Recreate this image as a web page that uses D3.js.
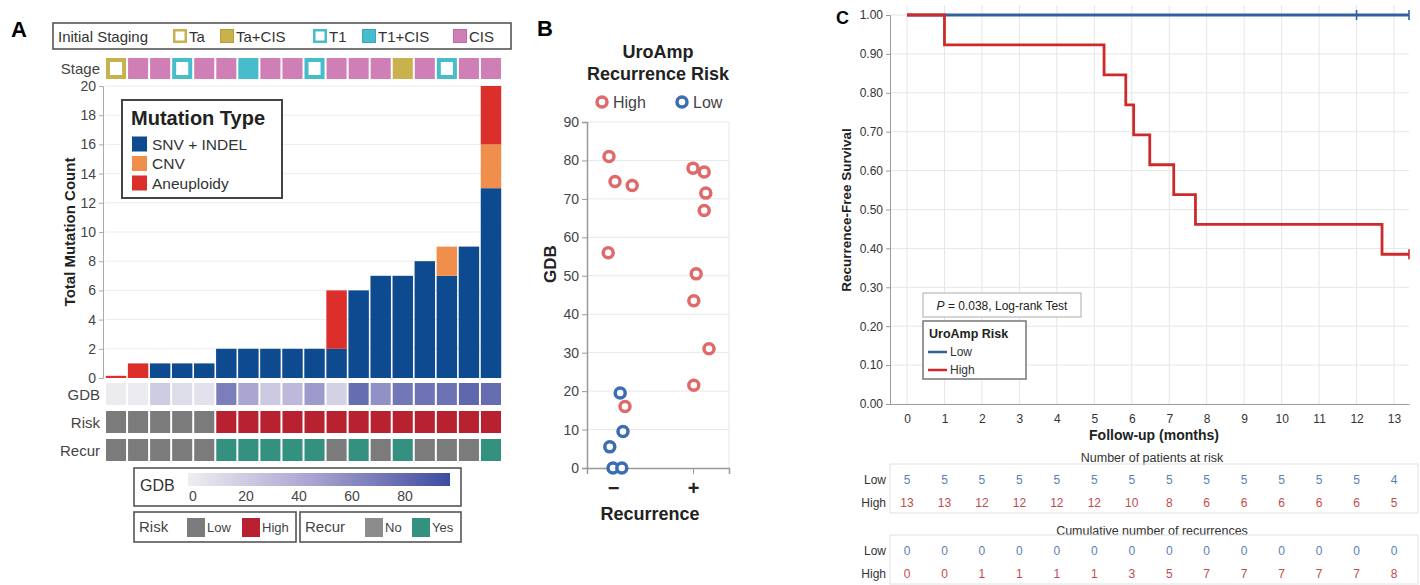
<!DOCTYPE html>
<html><head><meta charset="utf-8">
<script src="https://cdn.jsdelivr.net/npm/d3@7"></script>
<style>
body{margin:0;background:#fff;}
text{font-family:"Liberation Sans",Arial,sans-serif;}
</style></head>
<body>
<svg id="fig" width="1420" height="585"></svg>
<script>
// ---------------- DATA ----------------
// Panel A
const samples = d3.range(1, 19).map(i => "S" + i);
const stageCats = ["Ta", "Ta+CIS", "T1", "T1+CIS", "CIS"];
const stage = ["Ta","CIS","CIS","T1","CIS","CIS","T1+CIS","CIS","CIS","T1","CIS","CIS","CIS","Ta+CIS","CIS","T1","CIS","CIS"];
const snvIndel   = [0,0,1,1,1,2,2,2,2,2,2,6,7,7,8,7,9,13];
const cnv        = [0,0,0,0,0,0,0,0,0,0,0,0,0,0,0,2,0,3];
const aneuploidy = [0.15,1,0,0,0,0,0,0,0,0,4,0,0,0,0,0,0,4];
const gdbA = [0,0,19.5,9.5,5.5,67,43.5,21.5,31,50.5,16,77,56,71.5,73.5,74.5,81,78];
const riskA = ["Low","Low","Low","Low","Low","High","High","High","High","High","High","High","High","High","High","High","High","High"];
const recurA = ["No","No","No","No","No","Yes","Yes","Yes","Yes","Yes","No","Yes","No","Yes","No","No","No","Yes"];
const mutTypes = ["SNV + INDEL", "CNV", "Aneuploidy"];
const mutTicks = [0,2,4,6,8,10,12,14,16,18,20];
const gdbLegendTicks = [0,20,40,60,80];

// Panel B
const bRecurrence = [0,0,0,0,0,0,0,0,0,0, 1,1,1,1,1,1,1,1];
const bJitter     = [-0.05,0.025,0.24,-0.06,0.15,0.09,0.125,-0.04,0,0.11, 0,0.14,0.16,0.14,0.04,0.01,0.2,0.01];
const bGdb        = [81,74.5,73.5,56,16,19.5,9.5,5.5,0,0, 78,77,71.5,67,50.5,43.5,31,21.5];
const bRisk       = ["High","High","High","High","High","Low","Low","Low","Low","Low","High","High","High","High","High","High","High","High"];
const bTicks = [0,10,20,30,40,50,60,70,80,90];
const bCatLabels = ["\u2212", "+"];

// Panel C
const months = d3.range(0, 14);
const kmYTicks = [0,0.1,0.2,0.3,0.4,0.5,0.6,0.7,0.8,0.9,1.0];
const followEnd = 13.4;
const highEventTimes = [1, 5.26, 5.84, 6.05, 6.48, 7.12, 7.7, 12.68];
const highSurvival   = [0.923, 0.846, 0.769, 0.692, 0.615, 0.538, 0.462, 0.385];
const lowEventTimes = [];
const lowSurvival = [];
const lowCensor = [12, 13.4];
const highCensor = [13.4];
const atRiskLow  = [5,5,5,5,5,5,5,5,5,5,5,5,5,4];
const atRiskHigh = [13,13,12,12,12,12,10,8,6,6,6,6,6,5];
const cumRecLow  = [0,0,0,0,0,0,0,0,0,0,0,0,0,0];
const cumRecHigh = [0,0,1,1,1,1,3,5,7,7,7,7,7,8];

// ---------------- STYLE ----------------
const C = {
  snv:"#0d4a8f", cnv:"#f08f4c", aneu:"#dc2f2c",
  cis:"#cf7fb5", ta:"#c9b24e", t1:"#47bccd",
  low:"#7b7b7b", high:"#b8212f", no:"#7b7b7b", yes:"#34907f",
  bHigh:"#e06a6a", bLow:"#3c6db3",
  kmLow:"#335f9e", kmHigh:"#cd2b2b",
  tLow:"#5b80b6", tHigh:"#c34a4a",
  grid:"#e6e6e6", axis:"#9a9a9a", txt:"#333"
};
const svg = d3.select("#fig");

// ================= PANEL A =================
const A = svg.append("g");
A.append("text").attr("x", 11).attr("y", 37).attr("font-size", 22).attr("font-weight", "bold").text("A");

const xA = d3.scaleBand().domain(samples).range([105, 502]).padding(0);
const yA = d3.scaleLinear().domain([0, 20]).range([378, 86]);

// staging legend
A.append("rect").attr("x", 53).attr("y", 23).attr("width", 458).attr("height", 26)
  .attr("fill", "#fff").attr("stroke", "#555").attr("stroke-width", 1.6);
A.append("text").attr("x", 58).attr("y", 41.5).attr("font-size", 15).attr("fill", C.txt).text("Initial Staging");
const stageStyle = {
  "Ta": {fill:"#fff", stroke:C.ta}, "Ta+CIS": {fill:C.ta, stroke:"#b59d3c"},
  "T1": {fill:"#fff", stroke:C.t1}, "T1+CIS": {fill:C.t1, stroke:"#3aa7b8"},
  "CIS": {fill:C.cis, stroke:"#bb6ca2"}
};
const legX = d3.scaleOrdinal().domain(stageCats).range([173, 220, 313, 362, 453]);
stageCats.forEach(s => {
  const outline = stageStyle[s].fill === "#fff";
  A.append("rect").attr("x", legX(s) + (outline ? 1.25 : 0.5)).attr("y", 29 + (outline ? 1.25 : 0.5))
    .attr("width", outline ? 11.5 : 13).attr("height", outline ? 11.5 : 13)
    .attr("fill", stageStyle[s].fill).attr("stroke", stageStyle[s].stroke).attr("stroke-width", outline ? 2.5 : 1);
  A.append("text").attr("x", legX(s) + 16).attr("y", 41.5).attr("font-size", 15).attr("fill", C.txt).text(s);
});

// stage row
A.append("text").attr("x", 100).attr("y", 74).attr("text-anchor", "end").attr("font-size", 15).attr("fill", "#444").text("Stage");
samples.forEach((s, i) => {
  const st = stageStyle[stage[i]];
  const outline = st.fill === "#fff";
  A.append("rect").attr("x", xA(s) + 1).attr("y", 58).attr("width", xA.bandwidth() - 2).attr("height", 21)
    .attr("fill", outline ? st.stroke : st.fill);
  if (outline) {
    A.append("rect").attr("x", xA(s) + 5).attr("y", 62).attr("width", xA.bandwidth() - 10).attr("height", 13)
      .attr("fill", "#fff");
  }
});

// gridlines + axis
A.append("g").selectAll("line").data(mutTicks.slice(1)).join("line")
  .attr("x1", 105).attr("x2", 502).attr("y1", d => yA(d)).attr("y2", d => yA(d))
  .attr("stroke", "#ececec").attr("stroke-width", 1);
const axA = A.append("g").attr("transform", "translate(103,0)")
  .call(d3.axisLeft(yA).tickValues(mutTicks).tickSize(4).tickPadding(3));
axA.select(".domain").attr("stroke", "#aaa");
axA.selectAll(".tick line").attr("stroke", "#aaa");
axA.selectAll("text").attr("font-size", 14).attr("fill", "#444").attr("font-family", "Liberation Sans, Arial, sans-serif");
A.append("text").attr("transform", "translate(75,232) rotate(-90)").attr("text-anchor", "middle")
  .attr("font-size", 15).attr("font-weight", "bold").attr("fill", "#222").text("Total Mutation Count");

// stacked bars
const barRows = samples.map((s, i) => ({id: s, "SNV + INDEL": snvIndel[i], "CNV": cnv[i], "Aneuploidy": aneuploidy[i]}));
const stackA = d3.stack().keys(mutTypes)(barRows);
const mutColor = d3.scaleOrdinal().domain(mutTypes).range([C.snv, C.cnv, C.aneu]);
A.append("g").selectAll("g").data(stackA).join("g").attr("fill", d => mutColor(d.key))
  .selectAll("rect").data(d => d).join("rect")
  .attr("x", d => xA(d.data.id) + 0.8).attr("width", xA.bandwidth() - 1.6)
  .attr("y", d => yA(d[1])).attr("height", d => Math.max(0, yA(d[0]) - yA(d[1])));

// mutation legend
A.append("rect").attr("x", 122).attr("y", 100).attr("width", 160).attr("height", 98)
  .attr("fill", "#fff").attr("stroke", "#444").attr("stroke-width", 2);
A.append("text").attr("x", 131).attr("y", 125).attr("font-size", 20).attr("font-weight", "bold").attr("fill", "#222").text("Mutation Type");
mutTypes.forEach((m, k) => {
  const yc = 144 + k * 19.5;
  A.append("rect").attr("x", 132).attr("y", yc - 7.5).attr("width", 15).attr("height", 15).attr("fill", mutColor(m));
  A.append("text").attr("x", 152).attr("y", yc + 5.5).attr("font-size", 15.5).attr("fill", "#333").text(m);
});

// annotation rows
const gdbColor = d3.scaleLinear().domain([0, 45, 97]).range(["#ebebf0", "#a9a3d0", "#3e4c9e"]);
const riskColor = d3.scaleOrdinal().domain(["Low","High"]).range([C.low, C.high]);
const recurColor = d3.scaleOrdinal().domain(["No","Yes"]).range([C.no, C.yes]);
const rows = [
  {label:"GDB", y:383, vals:gdbA, col:gdbColor},
  {label:"Risk", y:411, vals:riskA, col:riskColor},
  {label:"Recur", y:439, vals:recurA, col:recurColor}
];
rows.forEach(r => {
  A.append("text").attr("x", 100).attr("y", r.y + 16.5).attr("text-anchor", "end").attr("font-size", 15).attr("fill", "#444").text(r.label);
  A.append("g").selectAll("rect").data(samples).join("rect")
    .attr("x", s => xA(s) + 1).attr("y", r.y).attr("width", xA.bandwidth() - 2).attr("height", 22)
    .attr("fill", (s, i) => r.col(r.vals[i]));
});

// GDB legend
const gx = d3.scaleLinear().domain([0, 97]).range([193, 450]);
A.append("rect").attr("x", 134).attr("y", 468).attr("width", 327).attr("height", 38)
  .attr("fill", "#fff").attr("stroke", "#555").attr("stroke-width", 1.6);
A.append("text").attr("x", 140).attr("y", 491).attr("font-size", 16).attr("fill", "#333").text("GDB");
const defs = svg.append("defs");
const grad = defs.append("linearGradient").attr("id", "gdbGrad");
d3.range(0, 1.001, 0.1).forEach(t => {
  grad.append("stop").attr("offset", t).attr("stop-color", gdbColor(gx.invert(188 + t * (450 - 188))));
});
A.append("rect").attr("x", 188).attr("y", 473).attr("width", 262).attr("height", 13).attr("fill", "url(#gdbGrad)");
gdbLegendTicks.forEach(t => {
  A.append("text").attr("x", gx(t)).attr("y", 501).attr("text-anchor", "middle").attr("font-size", 14).attr("fill", "#444").text(t);
});

// Risk / Recur legends
function catLegend(x0, w, title, items) {
  A.append("rect").attr("x", x0).attr("y", 512).attr("width", w).attr("height", 30)
    .attr("fill", "#fff").attr("stroke", "#555").attr("stroke-width", 1.6);
  A.append("text").attr("x", x0 + 5).attr("y", 532).attr("font-size", 15).attr("fill", "#444").text(title.t);
  items.forEach(it => {
    A.append("rect").attr("x", it.x).attr("y", 518).attr("width", 18).attr("height", 19).attr("fill", it.c);
    A.append("text").attr("x", it.x + 20).attr("y", 532).attr("font-size", 13).attr("fill", "#444").text(it.t);
  });
}
catLegend(134, 162, {t:"Risk"}, [{x:187, c:riskColor("Low"), t:"Low"}, {x:242, c:riskColor("High"), t:"High"}]);
catLegend(300, 161, {t:"Recur"}, [{x:365, c:"#8c8c8c", t:"No"}, {x:412, c:recurColor("Yes"), t:"Yes"}]);

// ================= PANEL B =================
const B = svg.append("g");
B.append("text").attr("x", 537).attr("y", 36).attr("font-size", 22).attr("font-weight", "bold").text("B");
B.append("text").attr("x", 658).attr("y", 58).attr("text-anchor", "middle").attr("font-size", 18).attr("font-weight", "bold").attr("fill", "#222").text("UroAmp");
B.append("text").attr("x", 658).attr("y", 80).attr("text-anchor", "middle").attr("font-size", 18).attr("font-weight", "bold").attr("fill", "#222").text("Recurrence Risk");
const riskB = d3.scaleOrdinal().domain(["High","Low"]).range([C.bHigh, C.bLow]);
[["High", 602], ["Low", 682]].forEach(([k, x]) => {
  B.append("circle").attr("cx", x).attr("cy", 102).attr("r", 5).attr("fill", "#fff").attr("stroke", riskB(k)).attr("stroke-width", 3.5);
  B.append("text").attr("x", x + 11).attr("y", 108).attr("font-size", 16).attr("fill", "#444").text(k);
});
const yB = d3.scaleLinear().domain([0, 90]).range([468, 122]);
const xB = d3.scaleLinear().domain([-0.325, 1.45]).range([587, 729]);
B.append("g").selectAll("line").data(bTicks.slice(1)).join("line")
  .attr("x1", 587).attr("x2", 729).attr("y1", d => yB(d)).attr("y2", d => yB(d)).attr("stroke", "#e8e8e8");
B.append("line").attr("x1", 729).attr("x2", 729).attr("y1", yB(90)).attr("y2", yB(0)).attr("stroke", "#e6e6e6");
const axB = B.append("g").attr("transform", "translate(587,0)").call(d3.axisLeft(yB).tickValues(bTicks).tickSize(5).tickPadding(3));
axB.select(".domain").attr("stroke", "#999").attr("stroke-width", 1.5);
axB.selectAll(".tick line").attr("stroke", "#999");
axB.selectAll("text").attr("font-size", 14).attr("fill", "#444").attr("font-family", "Liberation Sans, Arial, sans-serif");
const axBx = B.append("g").attr("transform", "translate(0,468)").call(d3.axisBottom(xB).tickValues([0, 1]).tickSize(6).tickFormat((d) => bCatLabels[d]));
axBx.select(".domain").attr("stroke", "#999").attr("stroke-width", 1.5);
axBx.selectAll(".tick line").attr("stroke", "#999");
axBx.selectAll("text").attr("font-size", 20).attr("font-weight", "bold").attr("fill", "#222").attr("dy", "0.9em").attr("font-family", "Liberation Sans, Arial, sans-serif");
B.append("text").attr("transform", "translate(556,264) rotate(-90)").attr("text-anchor", "middle")
  .attr("font-size", 17).attr("font-weight", "bold").attr("fill", "#222").text("GDB");
B.append("text").attr("x", 650).attr("y", 520).attr("text-anchor", "middle").attr("font-size", 18).attr("font-weight", "bold").attr("fill", "#222").text("Recurrence");
B.append("g").selectAll("circle").data(bGdb).join("circle")
  .attr("cx", (d, i) => xB(bRecurrence[i] + bJitter[i])).attr("cy", d => yB(d)).attr("r", 5)
  .attr("fill", "#fff").attr("fill-opacity", 0.9).attr("stroke", (d, i) => riskB(bRisk[i])).attr("stroke-width", 3.5);

// ================= PANEL C =================
const K = svg.append("g");
K.append("text").attr("x", 836).attr("y", 24).attr("font-size", 18).attr("font-weight", "bold").text("C");
const xK = d3.scaleLinear().domain([-0.454, followEnd]).range([890, 1409]);
const yK = d3.scaleLinear().domain([0, 1]).range([404, 15]);
K.append("g").selectAll("line").data(months).join("line")
  .attr("x1", d => xK(d)).attr("x2", d => xK(d)).attr("y1", 5).attr("y2", 404).attr("stroke", C.grid);
K.append("g").selectAll("line").data(kmYTicks.slice(1)).join("line")
  .attr("x1", 890).attr("x2", 1409).attr("y1", d => yK(d)).attr("y2", d => yK(d)).attr("stroke", C.grid);
const axKy = K.append("g").attr("transform", "translate(890,0)")
  .call(d3.axisLeft(yK).tickValues(kmYTicks).tickFormat(d3.format(".2f")).tickSize(4).tickPadding(3));
axKy.select(".domain").attr("stroke", C.axis);
axKy.selectAll(".tick line").attr("stroke", C.axis);
axKy.selectAll("text").attr("font-size", 12).attr("fill", "#333").attr("font-family", "Liberation Sans, Arial, sans-serif");
const axKx = K.append("g").attr("transform", "translate(0,404)")
  .call(d3.axisBottom(xK).tickValues(months).tickSize(0).tickPadding(10));
axKx.select(".domain").attr("stroke", C.axis);
axKx.selectAll("text").attr("font-size", 12).attr("fill", "#333").attr("font-family", "Liberation Sans, Arial, sans-serif");
K.append("text").attr("transform", "translate(851,210) rotate(-90)").attr("text-anchor", "middle")
  .attr("font-size", 13.5).attr("font-weight", "bold").attr("fill", "#222").text("Recurrence-Free Survival");
K.append("text").attr("x", 1154).attr("y", 440).attr("text-anchor", "middle")
  .attr("font-size", 14).attr("font-weight", "bold").attr("fill", "#222").text("Follow-up (months)");

function kmPath(times, surv) {
  const pts = [[0, 1]];
  let s = 1;
  times.forEach((t, i) => { pts.push([t, s]); s = surv[i]; pts.push([t, s]); });
  pts.push([followEnd, s]);
  return pts;
}
const line = d3.line().x(d => xK(d[0])).y(d => yK(d[1]));
function stepAt(times, surv, t) { let s = 1; times.forEach((tt, i) => { if (tt <= t) s = surv[i]; }); return s; }
[[lowEventTimes, lowSurvival, lowCensor, C.kmLow], [highEventTimes, highSurvival, highCensor, C.kmHigh]].forEach(([tm, sv, cens, col]) => {
  K.append("path").attr("d", line(kmPath(tm, sv))).attr("fill", "none").attr("stroke", col).attr("stroke-width", 2.8);
  cens.forEach(c => {
    const s = stepAt(tm, sv, c);
    K.append("line").attr("x1", xK(c)).attr("x2", xK(c)).attr("y1", yK(s) - 5).attr("y2", yK(s) + 5).attr("stroke", col).attr("stroke-width", 1.6);
  });
});

// p-value box + legend
K.append("rect").attr("x", 923).attr("y", 293).attr("width", 158).attr("height", 24).attr("fill", "#fff").attr("stroke", "#aaa");
const pt = K.append("text").attr("x", 1002).attr("y", 309.5).attr("text-anchor", "middle").attr("font-size", 12).attr("fill", "#222");
pt.append("tspan").attr("font-style", "italic").text("P");
pt.append("tspan").text(" = 0.038, Log-rank Test");
K.append("rect").attr("x", 923).attr("y", 321).attr("width", 103).attr("height", 58).attr("fill", "#fff").attr("stroke", "#777").attr("stroke-width", 1.5);
K.append("text").attr("x", 929).attr("y", 338).attr("font-size", 12.5).attr("font-weight", "bold").attr("fill", "#222").text("UroAmp Risk");
[["Low", C.kmLow, 352], ["High", C.kmHigh, 370]].forEach(([t, c, y]) => {
  K.append("line").attr("x1", 928).attr("x2", 947).attr("y1", y).attr("y2", y).attr("stroke", c).attr("stroke-width", 2.5);
  K.append("text").attr("x", 950).attr("y", y + 4).attr("font-size", 12).attr("fill", "#333").text(t);
});

// risk tables
function riskTable(title, yTitle, yBox, lowVals, highVals) {
  K.append("text").attr("x", 1152).attr("y", yTitle).attr("text-anchor", "middle").attr("font-size", 12.5).attr("fill", "#333").text(title);
  K.append("rect").attr("x", 890).attr("y", yBox).attr("width", 528).attr("height", 49).attr("fill", "none").attr("stroke", "#e2e2e2");
  [["Low", lowVals, C.tLow, yBox + 20], ["High", highVals, C.tHigh, yBox + 43]].forEach(([lab, vals, col, y]) => {
    K.append("text").attr("x", 886).attr("y", y).attr("text-anchor", "end").attr("font-size", 12).attr("fill", "#333").text(lab);
    K.append("g").selectAll("text").data(vals).join("text")
      .attr("x", (d, i) => xK(months[i])).attr("y", y).attr("text-anchor", "middle")
      .attr("font-size", 12).attr("fill", col).text(d => d);
  });
}
riskTable("Number of patients at risk", 462, 464, atRiskLow, atRiskHigh);
riskTable("Cumulative number of recurrences", 535, 535, cumRecLow, cumRecHigh);
</script>
</body></html>
